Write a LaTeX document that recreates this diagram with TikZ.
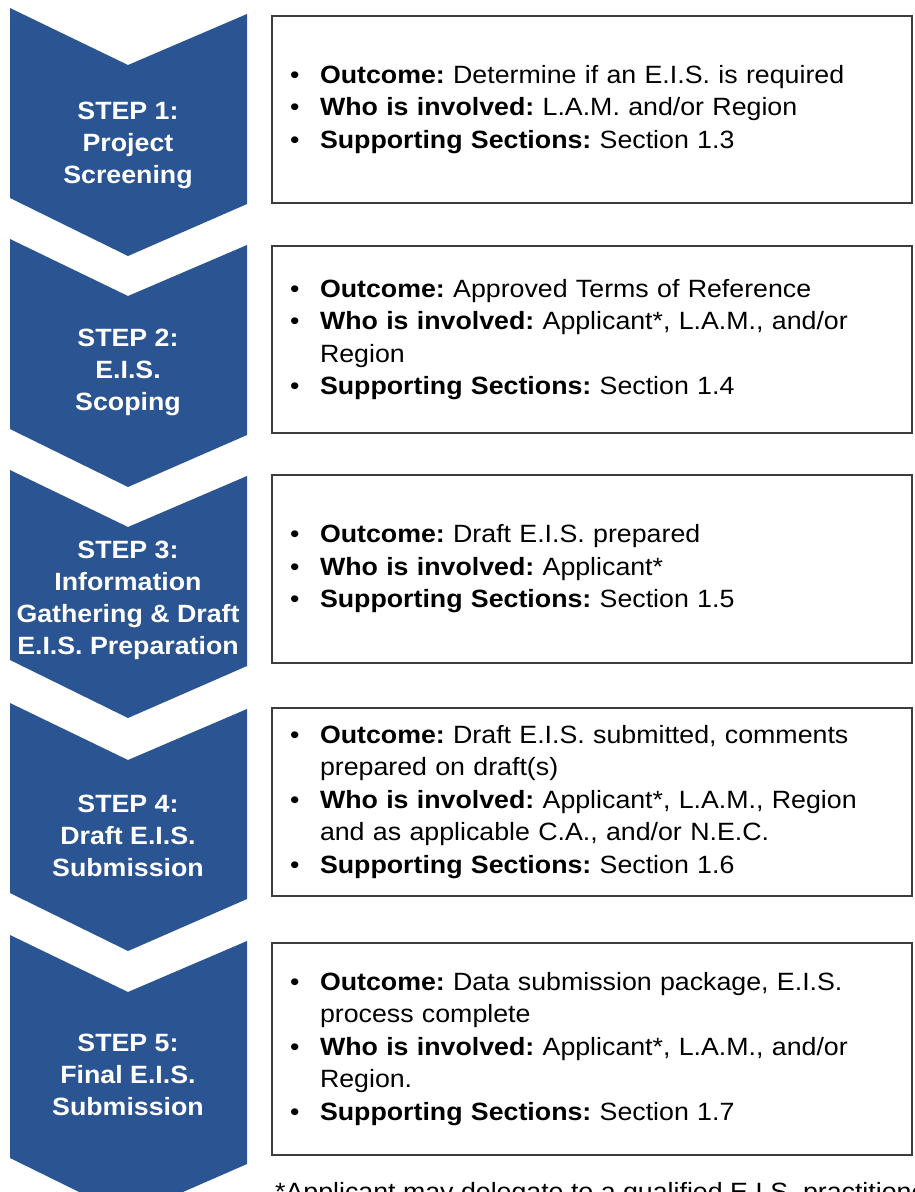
\documentclass[tikz,border=0pt]{standalone}
\usepackage{fontspec}
\setmainfont[FakeStretch=1.07]{Liberation Sans}
\definecolor{stepblue}{RGB}{43,84,146}
\definecolor{boxline}{RGB}{60,60,60}
\newcommand\bitem[2]{\hangindent=30pt\hangafter=1\noindent\makebox[30pt][l]{\textbullet}\textbf{#1} #2\par}
\begin{document}
\begin{tikzpicture}[x=1pt,y=-1pt,
  steptext/.style={text=white,font=\frenchspacing\bfseries\fontsize{25}{32}\selectfont,align=center,inner sep=0pt},
  infobox/.style={draw=boxline,line width=1.6pt,minimum width=640pt,inner xsep=18pt,inner ysep=0pt,
    text width=604pt,font=\frenchspacing\fontsize{25}{32.5}\selectfont},
  notetext/.style={anchor=base west,font=\frenchspacing\fontsize{25}{30}\selectfont,inner sep=0pt}]
\useasboundingbox (0,0) rectangle (914,1192);
\clip (0,0) rectangle (914,1192);
\foreach \y/\h in {8/190,239/190,470/190,703/190,935/223} {
  \fill[stepblue] (10,\y) -- (128,\y+57) -- (247,\y+6) -- (247,\y+\h+6) -- (128,\y+\h+58) -- (10,\y+\h) -- cycle;
}
\node[steptext] (s1) at (128,145) {STEP 1:\\Project\\Screening};
\node[steptext] (s2) at (128,372) {STEP 2:\\E.I.S.\\Scoping};
\node[steptext] (s3) at (128,600) {STEP 3:\\Information\\Gathering \& Draft\\E.I.S. Preparation};
\node[steptext] (s4) at (128,836) {STEP 4:\\Draft E.I.S.\\Submission};
\node[steptext] (s5) at (128,1075) {STEP 5:\\Final E.I.S.\\Submission};

\node[infobox,minimum height=187pt] (b1) at (592,109.5) {\raggedright
  \bitem{Outcome:}{Determine if an E.I.S. is required}
  \bitem{Who is involved:}{L.A.M. and/or Region}
  \bitem{Supporting Sections:}{Section 1.3}
  \vspace{8pt}};
\node[infobox,minimum height=187pt] (b2) at (592,339.5) {\raggedright
  \bitem{Outcome:}{Approved Terms of Reference}
  \bitem{Who is involved:}{Applicant*, L.A.M., and/or\newline Region}
  \bitem{Supporting Sections:}{Section 1.4}};
\node[infobox,minimum height=188pt] (b3) at (592,569) {\raggedright
  \bitem{Outcome:}{Draft E.I.S. prepared}
  \bitem{Who is involved:}{Applicant*}
  \bitem{Supporting Sections:}{Section 1.5}};
\node[infobox,minimum height=188pt] (b4) at (592,802) {\raggedright
  \bitem{Outcome:}{Draft E.I.S. submitted, comments\newline prepared on draft(s)}
  \bitem{Who is involved:}{Applicant*, L.A.M., Region\newline and as applicable C.A., and/or N.E.C.}
  \bitem{Supporting Sections:}{Section 1.6}};
\node[infobox,minimum height=212pt] (b5) at (592,1049) {\raggedright
  \bitem{Outcome:}{Data submission package, E.I.S.\newline process complete}
  \bitem{Who is involved:}{Applicant*, L.A.M., and/or\newline Region.}
  \bitem{Supporting Sections:}{Section 1.7}
  \vspace{6pt}};
\node[notetext] (note) at (275,1200) {*Applicant may delegate to a qualified E.I.S. practitioner, as appropriate};
\end{tikzpicture}
\end{document}
